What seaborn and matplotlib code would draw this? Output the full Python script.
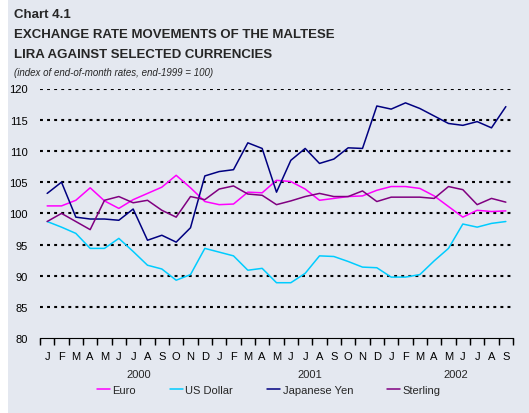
import numpy as np
import pandas as pd
import matplotlib.pyplot as plt
plt.switch_backend('agg')
import seaborn as sns
from matplotlib.patches import Rectangle
from matplotlib.lines import Line2D

#####################################################
# DATA (index of end-of-month rates, end-1999 = 100), Jan 2000 - Sep 2002
month_letters = list("JFMAMJJASOND") * 2 + list("JFMAMJJAS")
years = ["2000", "2001", "2002"]
year_pos = [6.4, 18.3, 28.5]

euro = [101.2, 101.2, 102.1, 104.1, 102.0, 100.8, 102.2, 103.2, 104.2, 106.1, 104.1,
        101.9, 101.4, 101.5, 103.4, 103.3, 105.3, 105.1, 103.9, 102.1, 102.4, 102.7,
        102.8, 103.7, 104.3, 104.3, 104.0, 102.8, 101.1, 99.4, 100.5, 100.3, 100.4]
usd = [98.7, 97.8, 96.8, 94.4, 94.4, 96.0, 93.9, 91.7, 91.1, 89.3, 90.2,
       94.4, 93.8, 93.2, 90.9, 91.2, 88.9, 88.9, 90.4, 93.2, 93.1, 92.3,
       91.4, 91.3, 89.8, 89.8, 90.2, 92.4, 94.4, 98.3, 97.8, 98.4, 98.7]
yen = [103.2, 105.0, 99.4, 99.1, 99.1, 98.9, 100.7, 95.7, 96.5, 95.4, 97.7,
       106.0, 106.7, 107.0, 111.3, 110.4, 103.4, 108.5, 110.4, 108.0, 108.7, 110.5,
       110.4, 117.2, 116.7, 117.7, 116.8, 115.6, 114.4, 114.1, 114.7, 113.7, 117.1]
sterling = [98.7, 100.0, 98.7, 97.4, 102.1, 102.7, 101.7, 102.1, 100.5, 99.4, 102.7,
            102.2, 103.9, 104.4, 103.1, 102.9, 101.4, 102.0, 102.7, 103.2, 102.7, 102.7,
            103.6, 101.9, 102.6, 102.6, 102.6, 102.4, 104.3, 103.8, 101.4, 102.4, 101.8]

series_names = ["Euro", "US Dollar", "Japanese Yen", "Sterling"]
colors = ["#FF00FF", "#00CCFF", "#000080", "#800080"]

#####################################################
n = len(month_letters)
df = pd.DataFrame({
    "month": np.tile(np.arange(n), 4),
    "value": euro + usd + yen + sterling,
    "currency": np.repeat(series_names, n),
})

sns.set_style("white")
plt.rcParams['font.family'] = ['Liberation Sans', 'DejaVu Sans']
plt.rcParams['xtick.bottom'] = True
plt.rcParams['xtick.major.size'] = 5
plt.rcParams['xtick.major.width'] = 1.0
plt.rcParams['xtick.color'] = 'black'
plt.rcParams['ytick.color'] = 'black'

bg = "#E4E8F0"
fig = plt.figure(figsize=(5.29, 4.14), dpi=100)
fig.patch.set_facecolor("white")
fig.patches.append(Rectangle((8 / 529, 0), 1, 1, transform=fig.transFigure,
                             facecolor=bg, edgecolor="none", zorder=-10))

ax = fig.add_axes([40 / 529, (414 - 339.3) / 414, 473 / 529, (339.3 - 89.5) / 414])
ax.set_facecolor(bg)

#gridlines
for v in range(85, 121, 5):
    ax.axhline(v, color="black", lw=1.5, linestyle=(0, (1.4, 2.0)), zorder=1)

sns.lineplot(data=df, x="month", y="value", hue="currency", hue_order=series_names,
             palette=colors, linewidth=1.1, ax=ax, legend=False, zorder=3)

ax.set_xlim(-0.5, n - 0.5)
ax.set_ylim(80, 120)
ax.set_yticks(range(80, 121, 5))
ax.tick_params(axis="y", left=False, length=0, labelsize=8, pad=9)
# month-boundary ticks (major, unlabeled) + month letters (minor, no tick mark)
bounds = np.arange(n + 1) - 0.5
ax.xaxis.set_ticks(bounds)
ax.xaxis.set_ticklabels([""] * (n + 1))
ax.xaxis.set_tick_params(which="major", bottom=True, length=5, width=1.0, color="black",
                         direction="out")
ax.set_xticks(np.arange(n), minor=True)
ax.set_xticklabels(month_letters, minor=True)
ax.xaxis.set_tick_params(which="minor", bottom=True, length=0, labelsize=8, pad=9)
# make sure the boundary tick marks show below the axis line
ax.vlines(bounds, -0.02, 0, transform=ax.get_xaxis_transform(), colors="black", lw=0.8,
          clip_on=False, zorder=4)
ax.set_xlabel("")
ax.set_ylabel("")
for s in ["left", "right", "top"]:
    ax.spines[s].set_visible(False)
ax.spines["bottom"].set_color("black")
ax.spines["bottom"].set_linewidth(0.8)

for yr, xp in zip(years, year_pos):
    ax.text(xp, -0.142, yr, transform=ax.get_xaxis_transform(), ha="center", va="center",
            fontsize=8)

#titles
fig.text(14 / 529, 1 - 15 / 414, "Chart 4.1", fontsize=9.5, weight="bold", va="center")
fig.text(14 / 529, 1 - 35.5 / 414, "EXCHANGE RATE MOVEMENTS OF THE MALTESE", fontsize=9.5,
         weight="bold", va="center")
fig.text(14 / 529, 1 - 54.5 / 414, "LIRA AGAINST SELECTED CURRENCIES", fontsize=9.5,
         weight="bold", va="center")
fig.text(14 / 529, 1 - 72.5 / 414, "(index of end-of-month rates, end-1999 = 100)", fontsize=7,
         style="italic", va="center")

#legend
handles = [Line2D([0], [0], color=c, lw=1.1) for c in colors]
fig.legend(handles, series_names, loc="center", bbox_to_anchor=(0.508, 1 - 391 / 414), ncol=4,
           frameon=False, fontsize=8, handlelength=1.2, handletextpad=0.2, columnspacing=3.05)

plt.savefig("out.png", dpi=100, facecolor=fig.get_facecolor())
